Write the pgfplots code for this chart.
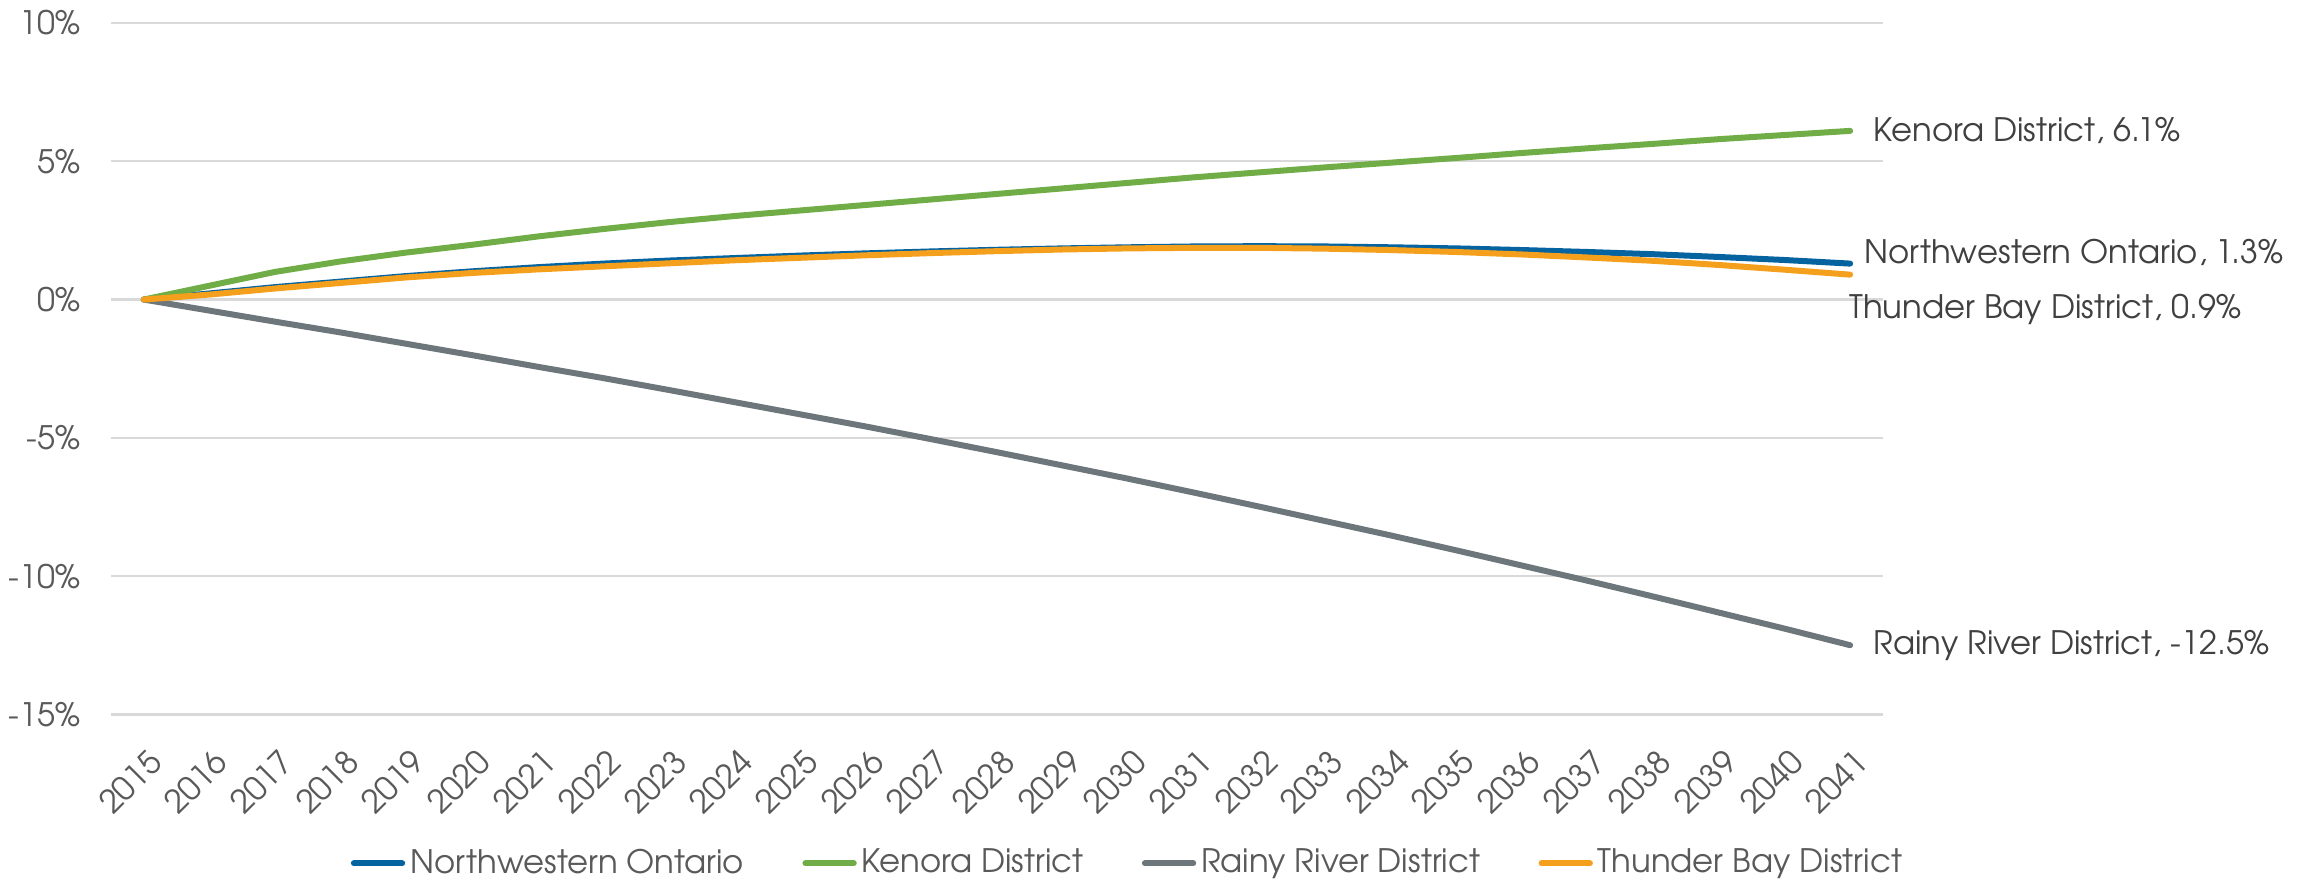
\documentclass[border=0pt]{standalone}
\usepackage{fontspec}
\setmainfont{TeX Gyre Adventor}
\usepackage{pgfplots}
\usepackage{pgfplotstable}
\pgfplotsset{compat=1.18}
\definecolor{cBlue}{HTML}{0563A0}
\definecolor{cGreen}{HTML}{70AD47}
\definecolor{cGray}{HTML}{6D777B}
\definecolor{cOrange}{HTML}{F5A01C}
\definecolor{gridc}{HTML}{D9D9D9}
\definecolor{tickc}{HTML}{595959}
\definecolor{labc}{HTML}{404040}

\pgfplotstableread{
year nw ken rr tb
2015 0 0 0 0
2016 0.22 0.50 -0.40 0.18
2017 0.45 1.00 -0.80 0.40
2018 0.65 1.38 -1.19 0.60
2019 0.85 1.70 -1.60 0.80
2020 1.02 1.98 -2.01 0.96
2021 1.17 2.28 -2.43 1.09
2022 1.30 2.55 -2.84 1.20
2023 1.41 2.80 -3.27 1.31
2024 1.50 3.02 -3.71 1.42
2025 1.59 3.22 -4.15 1.51
2026 1.67 3.42 -4.59 1.60
2027 1.74 3.62 -5.05 1.68
2028 1.80 3.82 -5.52 1.75
2029 1.85 4.02 -6.00 1.81
2030 1.89 4.22 -6.48 1.85
2031 1.92 4.42 -6.98 1.87
2032 1.93 4.60 -7.49 1.87
2033 1.92 4.78 -8.01 1.84
2034 1.89 4.95 -8.53 1.79
2035 1.85 5.12 -9.07 1.72
2036 1.79 5.30 -9.62 1.63
2037 1.72 5.47 -10.17 1.52
2038 1.64 5.63 -10.74 1.40
2039 1.54 5.80 -11.32 1.25
2040 1.43 5.95 -11.90 1.08
2041 1.30 6.10 -12.50 0.90
}\data

\begin{document}
\begin{tikzpicture}
\begin{axis}[
  scale only axis, width=531.6pt, height=207.4pt,
  xmin=2014.5, xmax=2041.5, ymin=-15, ymax=10,
  xtick={2015,2016,...,2041},
  ytick={-15,-10,-5,0,5,10},
  yticklabels={-15\%,-10\%,-5\%,0\%,5\%,10\%},
  /pgf/number format/assume math mode=true,
  xticklabel={\pgfmathprintnumber[fixed,precision=0,1000 sep={}]{\tick}},
  axis line style={draw=none}, major tick length=0pt,
  ymajorgrids, grid style={color=gridc, line width=0.7pt},
  clip=false,
  font=\fontsize{9.7}{11.5}\selectfont,
  ticklabel style={text=tickc},
  yticklabel style={anchor=east, inner sep=0pt, xshift=-9pt},
  xticklabel style={xshift=0.9pt, yshift=-9.8pt, rotate=45, anchor=north east, inner sep=0pt},
  legend style={at={(0.135,-0.2156)}, anchor=west, draw=none, fill=none,
    inner sep=0pt, text=tickc, font=\fontsize{9.7}{11.5}\selectfont,
    nodes={inner sep=1.5pt},
    /tikz/every even column/.append style={column sep=16pt}},
  legend columns=4,
  legend image code/.code={\draw[#1, line width=1.8pt, line cap=round] (0pt,0pt) -- (14.5pt,0pt);},
  every axis plot/.append style={line width=1.8pt, line cap=round, line join=round, no marks},
]
\addplot[cBlue] table[x=year,y=nw] {\data};
\addlegendentry{Northwestern Ontario}
\addplot[cGreen] table[x=year,y=ken] {\data};
\addlegendentry{Kenora District}
\addplot[cGray] table[x=year,y=rr] {\data};
\addlegendentry{Rainy River District}
\addplot[cOrange] table[x=year,y=tb] {\data};
\addlegendentry{Thunder Bay District}

\node[anchor=west, inner sep=0pt, text=labc, xshift=6.9pt] at (axis cs:2041,6.1) {Kenora District, 6.1\%};
\node[anchor=west, inner sep=0pt, text=labc, xshift=4.0pt, yshift=3.4pt] at (axis cs:2041,1.3) {Northwestern Ontario, 1.3\%};
\node[anchor=west, inner sep=0pt, text=labc, xshift=-0.4pt, yshift=-10.3pt] at (axis cs:2041,0.9) {Thunder Bay District, 0.9\%};
\node[anchor=west, inner sep=0pt, text=labc, xshift=6.9pt] at (axis cs:2041,-12.5) {Rainy River District, -12.5\%};

\path (rel axis cs:-0.06264,-0.2402) rectangle (rel axis cs:1.2427,1.0333);
\end{axis}
\end{tikzpicture}
\end{document}
